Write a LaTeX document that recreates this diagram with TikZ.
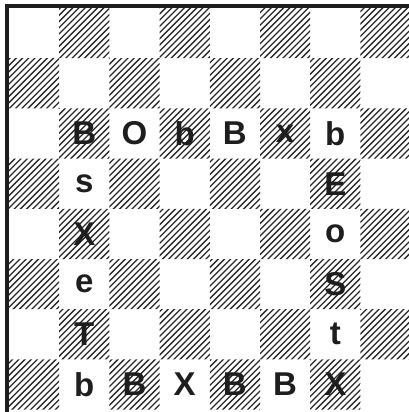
\documentclass[tikz,border=0pt]{standalone}
\usepackage{fontspec}
\setmainfont{Liberation Sans}
\definecolor{ink}{HTML}{1E1E1E}
\definecolor{hatchc}{HTML}{2A2A2A}
\begin{document}
\begin{tikzpicture}[x=1pt,y=-1pt,
  letter/.style={font=\fontsize{33}{33}\selectfont\bfseries, text=ink, inner sep=0pt},
  hatchline/.style={draw=hatchc, line width=1.3pt},
  frame/.style={draw=ink, line width=4pt, line join=miter}]
\useasboundingbox (0,0) rectangle (409,412);
\def\sq{50.2}
% hatched squares
\begin{scope}
  \path[clip] \foreach \r [evaluate=\r as \st using {int(mod(\r+1,2))}] in {0,...,7} {
     \foreach \c in {0,2,4,6} {
       (9+\c*\sq+\st*\sq,8+\r*\sq) rectangle ++(\sq,\sq)
     }};
  \foreach \k in {0,6.2,...,840} {
    \draw[hatchline] (\k,0) -- (0,\k);
  }
\end{scope}
% frame
\draw[frame] (7,412) -- (7,6) -- (409,6);
% letters
\newcommand{\lt}[3]{\node[letter] (L#1#2) at (9+#2*\sq+0.5*\sq, 8+#1*\sq+0.5*\sq) {#3};}
\lt{2}{1}{B}\lt{2}{2}{O}\lt{2}{3}{b}\lt{2}{4}{B}\lt{2}{5}{x}\lt{2}{6}{b}
\lt{3}{1}{s}\lt{3}{6}{E}
\lt{4}{1}{X}\lt{4}{6}{o}
\lt{5}{1}{e}\lt{5}{6}{S}
\lt{6}{1}{T}\lt{6}{6}{t}
\lt{7}{1}{b}\lt{7}{2}{B}\lt{7}{3}{X}\lt{7}{4}{B}\lt{7}{5}{B}\lt{7}{6}{X}
\end{tikzpicture}
\end{document}
